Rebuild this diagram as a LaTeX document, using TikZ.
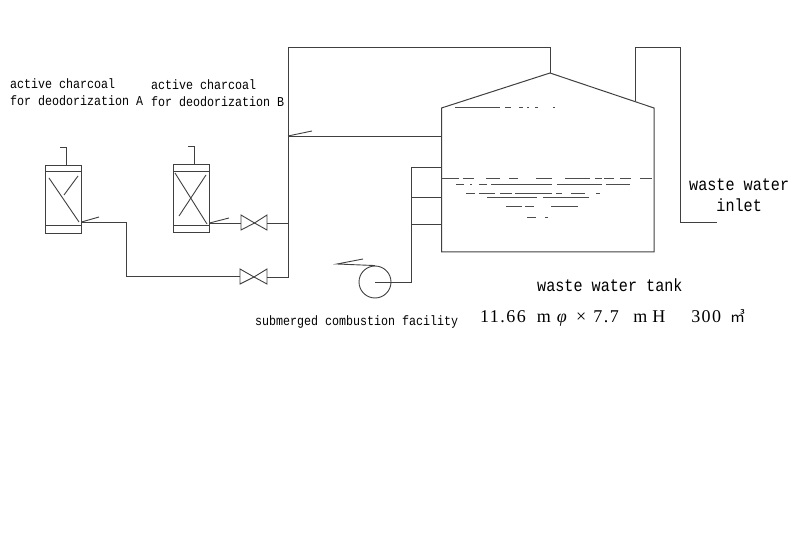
\documentclass[tikz,border=0pt]{standalone}
\usepackage{fontspec}
\newfontfamily\gothicfont[FakeStretch=0.86]{Liberation Mono}
\newfontfamily\minchofont[LetterSpace=8]{Liberation Serif}
\newfontfamily\cjkfont{Noto Sans CJK JP}
\tikzset{
  pipe/.style={draw=black!75,line width=0.9pt},
  liquid/.style={draw=black!70,line width=0.8pt},
  vessel/.style={draw=black!75,line width=0.9pt,minimum width=36pt,minimum height=68pt,inner sep=0pt},
  label/.style={inner sep=0pt,align=left,anchor=base west,text=black},
}
\begin{document}
\begin{tikzpicture}[x=1pt, y=-1pt]
\useasboundingbox (0,0) rectangle (809,556);

\node[label,font=\gothicfont\fontsize{13.56}{17}\selectfont] (labela) at (10,106) {active charcoal\\for deodorization A};
\node[label,font=\gothicfont\fontsize{13.56}{17}\selectfont] (labelb) at (151,107) {active charcoal\\for deodorization B};
\node[label,font=\gothicfont\fontsize{13.56}{17}\selectfont] (labelc) at (255,325) {submerged combustion facility};
\node[label,font=\gothicfont\fontsize{17.6}{21}\selectfont,align=center] (labeld) at (689,212) {waste water\\inlet};
\node[label,font=\gothicfont\fontsize{17.6}{21}\selectfont] (labele) at (537,291) {waste water tank};
\node[label,font=\minchofont\fontsize{18}{20}\selectfont] (labelf) at (480,322) {11.66\hspace{11pt}m\hspace{6pt}\textit{φ}\hspace{8pt}×\hspace{7pt}7.\hspace{1.5pt}7\hspace{14.5pt}m\hspace{5pt}H\hspace{26pt}300\hspace{9pt}{\cjkfont\fontsize{15}{18}\selectfont ㎥}};

% charcoal vessels
\node[vessel] (towera) at (63.5,199) {};
\node[vessel] (towerb) at (191.5,198) {};
\draw[pipe] (towera.west |- 0,171) -- (towera.east |- 0,171);
\draw[pipe] (towera.west |- 0,225) -- (towera.east |- 0,225);
\draw[pipe] (49,178) -- (79,222);
\draw[pipe] (78,176) -- (64,195);
\draw[pipe] (towerb.west |- 0,171) -- (towerb.east |- 0,171);
\draw[pipe] (towerb.west |- 0,225) -- (towerb.east |- 0,225);
\draw[pipe] (175,173) -- (207,224);
\draw[pipe] (206,175) -- (179,216);
\draw[pipe] (66,165) -- (66,147) -- (59.5,147);
\draw[pipe] (194.5,164) -- (194.5,146.5) -- (188,146.5);

% valves
\coordinate (valveb) at (254.5,223);
\coordinate (valvea) at (254,277);
\draw[pipe] (valveb) -- (241,215) -- (241,230) -- cycle;
\draw[pipe] (valveb) -- (267,215) -- (267,230) -- cycle;
\draw[pipe] (valvea) -- (240,269) -- (240,284) -- cycle;
\draw[pipe] (valvea) -- (267,269) -- (267,284) -- cycle;

% pipes
\coordinate (outa) at (81.5,222);
\coordinate (outb) at (209.5,223);
\draw[pipe] (outa) -- (126,222) -- (126,276) -- (240,276);
\draw[pipe] (outa) -- (99,217);
\draw[pipe] (outb) -- (241,223);
\draw[pipe] (outb) -- (229,218);
\draw[pipe] (267,223) -- (288,223);
\draw[pipe] (267,277) -- (288,277) -- (288,47) -- (550,47) -- (550,73);
\draw[pipe] (288,136) -- (441,136);
\draw[pipe] (288,136) -- (312,131);

% tank
\draw[pipe,line width=1pt] (441.5,108) -- (550,73) -- (654,108) -- (654,252) -- (441.5,252) -- cycle;
\draw[pipe] (635,101) -- (635,47) -- (680,47) -- (680,222) -- (717,222);
\draw[pipe] (411,167) -- (441,167);
\draw[pipe] (411,197) -- (441,197);
\draw[pipe] (411,224) -- (441,224);
\draw[pipe] (411,167) -- (411,282) -- (375,282);

% burner
\node[draw=black!75,line width=0.9pt,circle,minimum size=32pt,inner sep=0pt] (burner) at (375,282) {};
\draw[pipe] (burner.north) -- (337,264) -- (363,259);

% liquid level
\foreach \y/\xa/\xb in {107/455/500, 107/505/511, 107/519/523, 107/527/529, 107/535/538, 107/553/555,
  178/441/459, 178/463/474, 178/486/500, 178/509/518, 178/536/552, 178/565/590, 178/595/602, 178/604/614, 178/620/631, 178/640/652,
  184/456/464, 184/470/472, 184/479/487, 184/491/552, 184/557/602, 184/606/630,
  193/466/475, 193/479/495, 193/500/512, 193/515/552, 193/556/562, 193/571/585, 193/596/600,
  197/487/537, 197/543/589,
  206/506/522, 206/525/534, 206/551/578,
  217/527/536, 217/545/548}
  \draw[liquid] (\xa,\y) -- (\xb,\y);

\end{tikzpicture}
\end{document}
